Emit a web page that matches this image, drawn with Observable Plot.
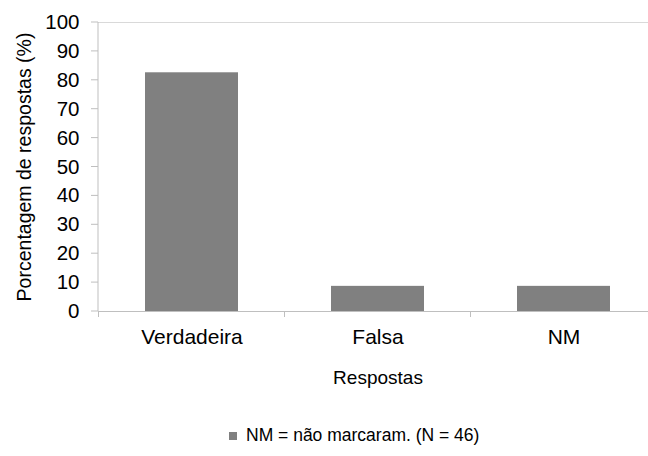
<!DOCTYPE html>
<html>
<head>
<meta charset="utf-8">
<script src="https://cdn.jsdelivr.net/npm/d3@7"></script>
<script src="https://cdn.jsdelivr.net/npm/@observablehq/plot@0.6"></script>
<style>
  html, body { margin: 0; padding: 0; background: #fff; overflow: hidden; }
  #chart svg { overflow: visible; }
  #legend { font-family: "Liberation Sans", Arial, sans-serif; font-size: 17.5px; line-height: 20px; color: #000; padding-left: 229px; white-space: nowrap; }
  #legend .sw { display: inline-block; width: 8px; height: 8px; background: #808080; margin-right: 9px; vertical-align: 1px; }
</style>
</head>
<body>
<div id="chart"></div>
<div id="legend"><span class="sw"></span>NM = não marcaram. (N = 46)</div>
<script>
const categories = ["Verdadeira", "Falsa", "NM"];
const values = [82.6, 8.7, 8.7];
const yTicks = [0, 10, 20, 30, 40, 50, 60, 70, 80, 90, 100];
const xTitle = "Respostas";
const yTitle = "Porcentagem de respostas (%)";

const data = categories.map((c, i) => ({category: c, value: values[i]}));

function frameLines(index, scales, values, dimensions) {
  const x = scales.x, y = scales.y;
  const g = d3.create("svg:g");
  const doms = categories;
  const step = x(doms[1]) - x(doms[0]);
  const bw = typeof x.bandwidth === "function" ? x.bandwidth() : (x.bandwidth != null ? x.bandwidth : step / 2);
  const gap = (step - bw) / 2;
  const left = dimensions.marginLeft;
  // left axis line
  g.append("line").attr("x1", left).attr("x2", left)
    .attr("y1", y(100)).attr("y2", y(0)).attr("stroke", "#bfbfbf");
  // y ticks
  yTicks.forEach(t => {
    g.append("line").attr("x1", left - 7).attr("x2", left)
      .attr("y1", y(t)).attr("y2", y(t)).attr("stroke", "#bfbfbf");
  });
  // category boundary ticks
  const bounds = doms.map(c => x(c) - gap).concat([x(doms[doms.length - 1]) + bw + gap]);
  bounds.forEach(b => {
    g.append("line").attr("x1", b).attr("x2", b)
      .attr("y1", y(0)).attr("y2", y(0) + 6).attr("stroke", "#bfbfbf");
  });
  return g.node();
}

const plot = Plot.plot({
  width: 648,
  height: 425,
  marginTop: 22,
  marginBottom: 114,
  marginLeft: 98,
  marginRight: -9,
  style: {fontFamily: "\"Liberation Sans\", Arial, sans-serif", color: "#000", background: "#fff"},
  x: {domain: categories, paddingInner: 0.5, paddingOuter: 0.25},
  y: {domain: [0, 100]},
  marks: [
    Plot.ruleY([100], {stroke: "#d9d9d9"}),
    Plot.barY(data, {x: "category", y: "value", fill: "#808080"}),
    Plot.ruleY([0], {stroke: "#bfbfbf"}),
    frameLines,
    Plot.axisY(yTicks, {
      tickSize: 0, tickPadding: 19, fill: "#000",
      fontSize: 20.5, tickFormat: d => String(d),
      label: yTitle, labelAnchor: "center", labelOffset: 81, labelArrow: "none"
    }),
    Plot.axisX({
      tickSize: 0, tickPadding: 18, fontSize: 21, fill: "#000",
      label: xTitle, labelAnchor: "center", labelOffset: 72, labelArrow: "none"
    })
  ]
});

d3.select(plot).selectAll("[aria-label='x-axis label'] text").attr("font-size", 19);
d3.select(plot).selectAll("[aria-label='y-axis label'] text").attr("font-size", 19.5);

document.getElementById("chart").appendChild(plot);
</script>
</body>
</html>
